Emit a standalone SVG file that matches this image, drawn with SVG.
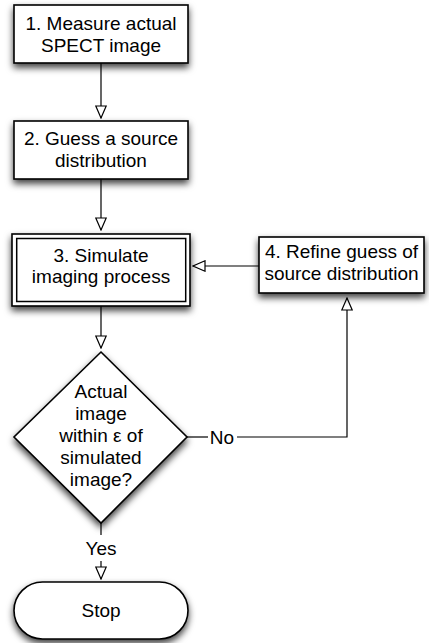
<svg xmlns="http://www.w3.org/2000/svg" width="429" height="643" viewBox="0 0 429 643">
<style>
text { font-family: "Liberation Sans", Arial, Helvetica, sans-serif; font-size: 19px; fill: #000; text-anchor: middle; }
.shape { fill: #fff; stroke: #000; stroke-width: 1.6; }
.inner { fill: none; stroke: #000; stroke-width: 1.5; }
.conn { fill: none; stroke: #000; stroke-width: 1.2; }
</style>
<defs>
<filter id="sh" x="-20%" y="-20%" width="140%" height="160%">
<feDropShadow dx="0" dy="4" stdDeviation="3.5" flood-color="#000" flood-opacity="0.75"/>
</filter>
<marker id="arr" viewBox="0 0 14 12" refX="13" refY="6" markerWidth="14" markerHeight="12" markerUnits="userSpaceOnUse" orient="auto">
<path d="M1,0.8 L13,6 L1,11.2 Z" fill="#fff" stroke="#000" stroke-width="1.2"/>
</marker>
</defs>
<rect width="429" height="643" fill="#fff"/>
<g id="connectors">
<line class="conn" x1="101" y1="63" x2="101" y2="118" marker-end="url(#arr)"/>
<line class="conn" x1="101" y1="179" x2="101" y2="230" marker-end="url(#arr)"/>
<line class="conn" x1="101" y1="306" x2="101" y2="348" marker-end="url(#arr)"/>
<line class="conn" x1="259" y1="266" x2="193" y2="266" marker-end="url(#arr)"/>
<line class="conn" x1="187" y1="437" x2="208" y2="437"/>
<polyline class="conn" points="237,437 347,437 347,298" marker-end="url(#arr)"/>
<line class="conn" x1="101" y1="523" x2="101" y2="535"/>
<line class="conn" x1="101" y1="561" x2="101" y2="579" marker-end="url(#arr)"/>
<text x="222" y="444">No</text>
<text x="101" y="555">Yes</text>
</g>
<g id="node1">
<rect class="shape" x="14" y="5" width="174" height="58" filter="url(#sh)"/>
<text x="101" y="30">1. Measure actual</text>
<text x="101" y="52">SPECT image</text>
</g>
<g id="node2">
<rect class="shape" x="14" y="121" width="174" height="58" filter="url(#sh)"/>
<text x="101" y="145">2. Guess a source</text>
<text x="101" y="167">distribution</text>
</g>
<g id="node3">
<rect class="shape" x="12" y="234" width="178" height="72" filter="url(#sh)"/>
<rect class="inner" x="16.7" y="238.5" width="169" height="63"/>
<text x="101" y="262">3. Simulate</text>
<text x="101" y="283">imaging process</text>
</g>
<g id="node4">
<rect class="shape" x="259" y="237" width="165" height="56" filter="url(#sh)"/>
<text x="341.5" y="258">4. Refine guess of</text>
<text x="341.5" y="280">source distribution</text>
</g>
<g id="decision">
<polygon class="shape" points="101,352 187,437 101,523 14,437" filter="url(#sh)"/>
<text x="101" y="398">Actual</text>
<text x="101" y="420">image</text>
<text x="101" y="442">within ε of</text>
<text x="101" y="464">simulated</text>
<text x="101" y="486">image?</text>
</g>
<g id="stop">
<rect class="shape" x="14" y="582" width="174" height="57" rx="28.5" ry="28.5" filter="url(#sh)"/>
<text x="101" y="617">Stop</text>
</g>
</svg>
